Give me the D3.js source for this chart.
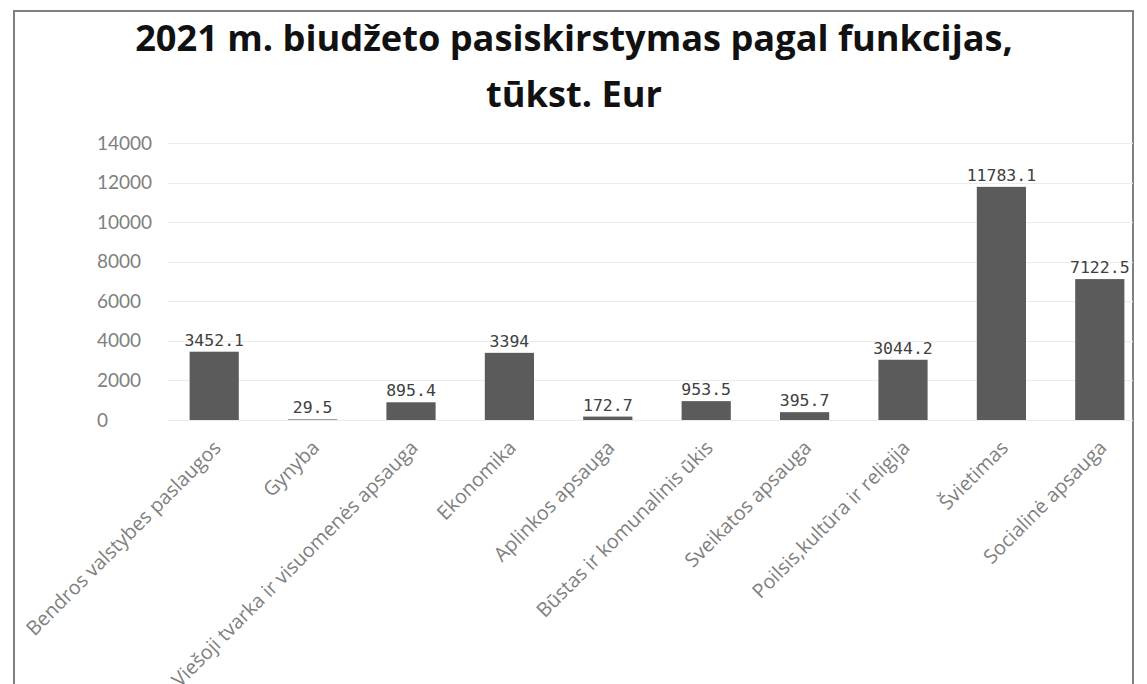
<!DOCTYPE html>
<html>
<head>
<meta charset="utf-8">
<script src="https://cdn.jsdelivr.net/npm/d3@7"></script>
<style>
  html, body { margin: 0; padding: 0; background: #fff; }
  svg { display: block; }
</style>
</head>
<body>
<svg id="chart" width="1147" height="684"></svg>
<script>
const titleLines = ["2021 m. biudžeto pasiskirstymas pagal funkcijas,", "tūkst. Eur"];
const categories = [
  "Bendros valstybes paslaugos",
  "Gynyba",
  "Viešoji tvarka ir visuomenės apsauga",
  "Ekonomika",
  "Aplinkos apsauga",
  "Būstas ir komunalinis ūkis",
  "Sveikatos apsauga",
  "Poilsis,kultūra ir religija",
  "Švietimas",
  "Socialinė apsauga"
];
const values = [3452.1, 29.5, 895.4, 3394, 172.7, 953.5, 395.7, 3044.2, 11783.1, 7122.5];
const valueLabels = ["3452.1", "29.5", "895.4", "3394", "172.7", "953.5", "395.7", "3044.2", "11783.1", "7122.5"];
const yTicks = [0, 2000, 4000, 6000, 8000, 10000, 12000, 14000];

const svg = d3.select("#chart");

// frame
svg.append("rect")
  .attr("x", 14).attr("y", 11)
  .attr("width", 1119).attr("height", 700)
  .attr("fill", "none")
  .attr("stroke", "#808080")
  .attr("stroke-width", 2);

// title
svg.append("g").selectAll("text")
  .data(titleLines)
  .join("text")
  .attr("x", 574)
  .attr("y", (d, i) => 51 + i * 56)
  .attr("text-anchor", "middle")
  .attr("font-family", "'Open Sans', sans-serif")
  .attr("font-weight", "bold")
  .attr("font-size", 36.2)
  .attr("fill", "#111")
  .text(d => d);

const y = d3.scaleLinear().domain([0, 14000]).range([420, 143]);
const x = d3.scaleBand().domain(categories).range([165, 1149]).paddingInner(0.5).paddingOuter(0.25);

// gridlines
svg.append("g").selectAll("line")
  .data(yTicks)
  .join("line")
  .attr("x1", 168).attr("x2", 1133)
  .attr("y1", d => Math.round(y(d)) + 0.5)
  .attr("y2", d => Math.round(y(d)) + 0.5)
  .attr("stroke", "#ebebeb")
  .attr("stroke-width", 1);

// y axis labels (left aligned like the reference)
const yAxis = d3.axisLeft(y).tickValues(yTicks).tickSize(0).tickFormat(d3.format("d"));
const yg = svg.append("g").attr("transform", "translate(97,0)").call(yAxis);
yg.select(".domain").remove();
yg.selectAll("text")
  .attr("x", 0)
  .attr("text-anchor", "start")
  .attr("font-family", "Lato, sans-serif")
  .attr("font-size", 19)
  .attr("fill", "#808080");

// bars
svg.append("g").selectAll("rect")
  .data(values)
  .join("rect")
  .attr("x", (d, i) => x(categories[i]))
  .attr("width", x.bandwidth())
  .attr("y", d => y(d))
  .attr("height", d => y(0) - y(d))
  .attr("fill", "#5b5b5b");

// value labels
svg.append("g").selectAll("text")
  .data(values)
  .join("text")
  .attr("x", (d, i) => x(categories[i]) + x.bandwidth() / 2)
  .attr("y", d => y(d) - 6)
  .attr("text-anchor", "middle")
  .attr("font-family", "'DejaVu Sans Mono', monospace")
  .attr("font-size", 16.5)
  .attr("fill", "#404040")
  .text((d, i) => valueLabels[i]);

// x axis category labels
const xAxis = d3.axisBottom(x).tickSize(0);
const xg = svg.append("g").attr("transform", `translate(0,${y(0)})`).call(xAxis);
xg.select(".domain").remove();
xg.selectAll("text")
  .attr("text-anchor", "end")
  .attr("x", 0).attr("y", 0).attr("dy", 0)
  .attr("transform", "translate(8,29) rotate(-45)")
  .attr("font-family", "'Open Sans', sans-serif")
  .attr("font-size", 19.8)
  .attr("fill", "#808080");
</script>
</body>
</html>
